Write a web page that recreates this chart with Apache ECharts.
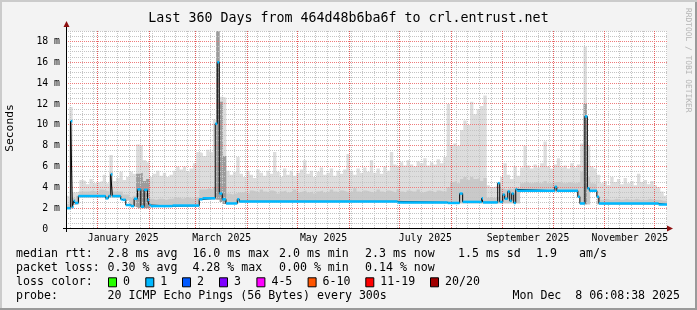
<!DOCTYPE html>
<html><head><meta charset="utf-8">
<script src="https://cdn.jsdelivr.net/npm/echarts@6/dist/echarts.min.js"></script>
<style>html,body{margin:0;padding:0;background:#f3f3f3}#c{width:697px;height:310px}</style>
</head><body><div id="c"></div>
<script>
const DAY = 86400000;
const START = Date.UTC(2024, 11, 13, 6, 8, 38);
const SPAN = 360;
const Y_MAX = 19;
const yTicks = [0, 2, 4, 6, 8, 10, 12, 14, 16, 18];
const monthStarts = ['2025-01-01','2025-02-01','2025-03-01','2025-04-01','2025-05-01','2025-06-01','2025-07-01','2025-08-01','2025-09-01','2025-10-01','2025-11-01','2025-12-01'];
const labelMonths = [['2025-01-01','2025-02-01'],['2025-03-01','2025-04-01'],['2025-05-01','2025-06-01'],['2025-07-01','2025-08-01'],['2025-09-01','2025-10-01'],['2025-11-01','2025-12-01']];
const labelNames = ['January 2025','March 2025','May 2025','July 2025','September 2025','November 2025'];

// median rtt (ms), step changes: day offset from START -> value
const medianDays = [0,2.8,3.8,4.6,5.4,7.4,23.8,25.4,26.8,27.8,32.8,33.8,35.8,38.8,40.8,42.8,44.8,46.8,48.8,49.8,50.8,63.8,79.8,81.8,89.4,90.6,91.8,93.6,95.8,102.6,103.8,198.6,228.6,235.8,237.6,249,249.8,258.6,259.8,261.6,262.8,264.6,265.8,267,268.2,269.4,270.3,292.8,294,306.6,307.8,310.8,312.3,313.5,318,319.2,355,360];
const medianVals = [2.0,10.35,2.1,2.7,2.5,3.16,2.94,3.16,5.24,3.16,2.85,2.8,2.3,2.2,2.9,3.8,2.15,3.75,2.8,2.3,2.2,2.25,2.85,2.95,10.1,16.0,3.4,2.85,2.45,2.85,2.65,2.55,2.5,3.4,2.6,2.95,2.55,4.4,2.6,3.3,2.9,3.6,2.7,3.4,2.5,3.8,3.67,4.05,3.67,3.1,2.45,10.8,3.9,3.67,3.1,2.45,2.35,2.35];

// smoke, one value per 2-day bin (ms)
const smokeTop = [
3.2,11.7,3.5,3.6,
4.7,4.6,4.3,4.8,4.4,4.5,4.6,5.2,4.4,
7.1,
4.6,4.9,5.5,4.7,5.0,
5.5,5.3,
8.1,8.0,6.6,6.4,
5.0,5.3,5.6,5.1,5.4,5.0,5.2,
5.6,6.0,5.7,6.0,5.5,5.8,6.3,7.4,
7.3,7.0,7.6,7.4,
10.5,19,
12.7,12.6,
5.6,5.2,5.5,6.9,
5.3,5.0,5.6,5.2,4.9,5.7,5.4,5.1,5.6,5.3,
7.4,
5.5,5.0,5.8,5.2,5.6,5.1,5.4,5.7,
6.6,
5.3,5.6,5.0,5.5,5.9,5.2,5.4,5.8,5.1,5.6,5.3,5.7,
7.2,
5.6,5.2,5.8,5.4,5.9,5.5,
6.6,
5.4,5.8,5.3,6.0,5.6,
7.4,
6.2,6.0,6.4,6.1,6.6,6.2,6.0,6.5,6.3,6.8,6.1,6.4,6.2,6.7,6.3,6.9,
12.0,
8.0,8.2,8.0,9.5,10.4,10.0,12.2,11.0,11.5,11.8,12.8,
4.2,4.0,4.1,4.4,
5.0,6.3,5.2,4.8,6.0,5.1,
5.9,8.0,6.1,5.8,6.2,5.9,6.3,8.4,6.0,5.8,6.2,
6.8,5.9,6.1,5.8,6.3,5.9,6.2,
8.2,17.5,8.0,
6.0,5.8,5.2,
4.4,4.6,4.2,5.0,4.5,4.8,4.3,4.9,4.4,4.6,4.2,5.3,4.5,4.7,4.3,4.6,4.2,4.0,3.6,3.2];
const smokeMid = [
2.4,3.0,2.9,3.2,
3.6,3.6,3.6,3.7,3.6,3.6,3.8,3.7,3.6,
5.5,
3.6,3.6,3.6,3.3,3.3,
3.0,3.2,
4.6,5.0,4.3,4.5,
2.9,2.8,2.9,2.9,2.8,2.9,2.9,
3.0,3.0,2.9,3.0,3.0,2.9,3.0,3.1,
3.8,3.8,3.9,3.8,
4.0,19,
6.0,5.0,
3.4,3.3,3.4,3.5,
3.5,3.6,3.4,3.7,3.6,3.5,3.8,3.6,3.5,3.7,3.6,3.4,3.6,3.7,3.5,3.6,3.8,3.5,3.6,3.7,3.5,3.6,3.4,3.6,3.7,3.5,3.6,3.8,3.6,3.5,3.7,3.6,3.5,3.6,3.9,3.6,3.5,3.7,3.6,3.5,3.6,3.8,3.6,3.5,3.7,3.6,3.5,3.8,
3.6,3.5,3.7,3.6,3.6,3.8,3.5,3.6,3.7,3.6,3.5,3.7,3.6,3.6,
4.0,
4.5,4.6,4.4,4.8,5.0,4.7,5.0,4.8,4.9,4.6,4.9,
3.0,3.0,3.0,3.1,
3.9,3.8,3.9,3.8,4.0,3.9,
4.4,4.5,4.4,4.4,4.5,4.4,4.4,4.6,4.4,4.4,4.5,4.5,4.4,4.4,4.5,4.4,4.4,4.5,
5.5,11.0,5.0,
4.4,4.3,3.0,
2.8,2.9,2.8,2.8,2.9,2.8,2.8,2.9,2.8,2.8,2.9,2.8,2.8,2.8,2.9,2.8,2.8,2.8,2.7,2.7];
const smokeDarkBins = [21,22,23,24,45,46,47,155];
const smokeDarkVals = [5.3,5.4,4.6,4.8,19,12.2,7.0,12.0];
const smokeLow = [
1.9,2.0,2.3,2.4,
3.0,3.0,3.0,3.0,3.0,3.0,3.0,3.0,3.0,
3.0,
3.0,3.0,3.0,2.7,2.7,
2.15,2.1,
2.0,2.0,2.0,2.0,
2.1,2.1,2.1,2.1,2.1,2.1,2.1,
2.1,2.1,2.1,2.1,2.1,2.1,2.1,2.1,
2.8,2.8,2.8,2.8,
2.8,2.8,
2.6,2.4,
2.4,2.4,2.4,2.5,
2.55,2.55,2.55,2.55,2.55,2.55,2.55,2.55,2.55,2.55,2.55,2.55,2.55,2.55,2.55,2.55,2.55,2.55,2.55,2.55,2.55,2.55,2.55,2.55,2.55,2.55,2.55,2.55,2.55,2.55,2.55,2.55,2.55,2.55,2.55,2.55,2.55,2.55,2.55,2.55,2.55,2.55,2.55,2.55,2.55,2.55,2.55,2.55,
2.45,2.45,2.45,2.45,2.45,2.45,2.45,2.45,2.45,2.45,2.45,2.45,2.45,2.45,
2.4,
2.45,2.45,2.45,2.45,2.45,2.45,2.45,2.45,2.45,2.45,2.45,
2.45,2.45,2.45,2.45,
2.45,2.45,2.45,2.45,2.45,2.45,
3.55,3.55,3.55,3.55,3.55,3.55,3.55,3.55,3.55,3.55,3.55,3.55,3.55,3.55,3.55,3.55,3.55,3.0,
2.35,2.35,2.35,
3.55,3.55,2.35,
2.3,2.3,2.3,2.3,2.3,2.3,2.3,2.3,2.3,2.3,2.3,2.3,2.3,2.3,2.3,2.3,2.3,2.3,2.3,2.3];
const BIN = 2;

const legendRows = [
  {label:'median rtt:', items:[['2.8 ms avg',107.6],['16.0 ms max',192.4],['2.0 ms min',279],['2.3 ms now',365],['1.5 ms sd',458],['1.9',536],['am/s',579]]},
  {label:'packet loss:', items:[['0.30 % avg',107.6],['4.28 % max',192.4],['0.00 % min',279],['0.14 % now',365]]}
];
const lossLabels = ['0','1','2','3','4-5','6-10','11-19','20/20'];
const lossColors = ['#26ff00','#00b8ff','#0059ff','#7e00ff','#ff00ff','#ff5500','#ff0000','#a10000'];
const lossX = [108,145.3,182,219,256.4,307.6,365.3,430];
const probeText = '20 ICMP Echo Pings (56 Bytes) every 300s';
const stampText = 'Mon Dec  8 06:08:38 2025';
const titleText = 'Last 360 Days from 464d48b6ba6f to crl.entrust.net';

// ---------- build ----------
const dayOf = s => { const p = s.split('-').map(Number); return (Date.UTC(p[0], p[1]-1, p[2]) - START) / DAY; };
const monthDays = monthStarts.map(dayOf);
const labelDays = labelMonths.map(m => (dayOf(m[0]) + dayOf(m[1])) / 2);
const weekDays = [];
{ let d = Date.UTC(2024, 11, 16); while (d < START + SPAN * DAY) { weekDays.push((d - START) / DAY); d += 7 * DAY; } }
const yMinor = [];
for (let v = 0.5; v <= Y_MAX + 1e-9; v += 0.5) { if (Math.abs(v / 2 - Math.round(v / 2)) > 1e-9) yMinor.push(v); }
const yMajor = yTicks.filter(v => v > 0);

const binSeries = arr => { const out = arr.map((v, i) => [i * BIN, v]); out.push([SPAN, arr[arr.length - 1]]); return out; };
const darkArr = smokeTop.map(() => null);
smokeDarkBins.forEach((b, k) => { darkArr[b] = smokeDarkVals[k]; });
const darkData = darkArr.map((v, i) => [i * BIN, v]); darkData.push([SPAN, null]);
const medData = medianDays.map((d, i) => [d, medianVals[i]]);
const segData = [];
for (let i = 0; i < medianDays.length - 1; i++) segData.push([medianDays[i], medianDays[i + 1], medianVals[i]]);

const MONO = '"DejaVu Sans Mono", monospace';
const H_COLORS = ['#c4c4c4', '#ee7c7c'];
const V_COLORS = ['#c4c4c4', '#e45e5e'];
const areaSeries = (name, data, color, z) => ({
  name, type: 'line', step: 'end', data, symbol: 'none', z, silent: true,
  lineStyle: { opacity: 0, width: 0 }, areaStyle: { color, opacity: 1, origin: 'start' }
});
const vGridData = weekDays.map(d => [d, 0]).concat(monthDays.map(d => [d, 1]));
const hGridData = yMinor.map(v => [0, v]).concat(yMajor.map(v => [1, v]));

const chart = echarts.init(document.getElementById('c'), null, { renderer: 'canvas' });

const graphics = [];
graphics.push({ type: 'text', left: 'center', top: 12, style: { text: titleText, font: '13.3px ' + MONO, fill: '#000' } });
graphics.push({ type: 'text', x: 10, y: 128, rotation: Math.PI / 2, style: { text: 'Seconds', font: '11.3px ' + MONO, fill: '#000', align: 'center', verticalAlign: 'middle' } });
graphics.push({ type: 'text', x: 688, y: 8, rotation: -Math.PI / 2, style: { text: 'RRDTOOL / TOBI OETIKER', font: '7.9px ' + MONO, fill: '#b4b4b4', align: 'left', verticalAlign: 'middle' } });
graphics.push({ type: 'line', shape: { x1: 66.5, y1: 26, x2: 66.5, y2: 232 }, style: { stroke: '#000', lineWidth: 1 }, z: 100 });
graphics.push({ type: 'line', shape: { x1: 63, y1: 228.5, x2: 667, y2: 228.5 }, style: { stroke: '#000', lineWidth: 1 }, z: 100 });
graphics.push({ type: 'polygon', shape: { points: [[63.5, 27], [69.5, 27], [66.5, 21]] }, style: { fill: '#8e1010' }, z: 100 });
graphics.push({ type: 'polygon', shape: { points: [[667, 225.5], [667, 231.5], [673, 228.5]] }, style: { fill: '#8e1010' }, z: 100 });
graphics.push({ type: 'rect', shape: { x: 0, y: 308, width: 697, height: 2 }, style: { fill: '#9a9a9a' } });
graphics.push({ type: 'rect', shape: { x: 695, y: 0, width: 2, height: 310 }, style: { fill: '#9a9a9a' } });
graphics.push({ type: 'rect', shape: { x: 0, y: 0, width: 697, height: 2 }, style: { fill: '#cbcbcb' } });
graphics.push({ type: 'rect', shape: { x: 0, y: 0, width: 2, height: 308 }, style: { fill: '#cbcbcb' } });
const rowY = [254.3, 268.3, 282.3, 296.2];
const LF = '11.6px ' + MONO;
legendRows.forEach((r, ri) => {
  graphics.push({ type: 'text', x: 16, y: rowY[ri], style: { text: r.label, font: LF, fill: '#000', verticalAlign: 'middle' } });
  r.items.forEach(it => graphics.push({ type: 'text', x: it[1], y: rowY[ri], style: { text: it[0], font: LF, fill: '#000', verticalAlign: 'middle' } }));
});
graphics.push({ type: 'text', x: 16, y: rowY[2], style: { text: 'loss color:', font: LF, fill: '#000', verticalAlign: 'middle' } });
lossLabels.forEach((l, i) => {
  graphics.push({ type: 'rect', shape: { x: lossX[i] + 0.5, y: rowY[2] - 4.5, width: 8, height: 9 }, style: { fill: lossColors[i], stroke: '#000', lineWidth: 1 } });
  graphics.push({ type: 'text', x: lossX[i] + 15, y: rowY[2], style: { text: l, font: LF, fill: '#000', verticalAlign: 'middle' } });
});
graphics.push({ type: 'text', x: 16, y: rowY[3], style: { text: 'probe:', font: LF, fill: '#000', verticalAlign: 'middle' } });
graphics.push({ type: 'text', x: 107.6, y: rowY[3], style: { text: probeText, font: LF, fill: '#000', verticalAlign: 'middle' } });
graphics.push({ type: 'text', x: 680, y: rowY[3], style: { text: stampText, font: LF, fill: '#000', align: 'right', verticalAlign: 'middle' } });

chart.setOption({
  animation: false,
  backgroundColor: '#f3f3f3',
  grid: { left: 66, right: 30, top: 31, bottom: 81, show: true, backgroundColor: '#ffffff', borderWidth: 0 },
  xAxis: [
    { type: 'value', min: 0, max: SPAN,
      axisLine: { show: false }, splitLine: { show: false },
      axisTick: { show: false, customValues: labelDays },
      axisLabel: { customValues: labelDays, margin: 4, color: '#000', fontFamily: '"DejaVu Sans Mono", monospace', fontSize: 9.8,
        formatter: v => { let bi = 0, bd = 1e9; labelDays.forEach((d, i) => { if (Math.abs(d - v) < bd) { bd = Math.abs(d - v); bi = i; } }); return labelNames[bi]; } } },
    { type: 'value', min: 0, max: 1, show: false }
  ],
  yAxis: [
    { type: 'value', min: 0, max: Y_MAX,
      axisLine: { show: false }, splitLine: { show: false },
      axisTick: { show: false, customValues: yTicks },
      axisLabel: { customValues: yTicks, margin: 6, color: '#000', fontFamily: '"DejaVu Sans Mono", monospace', fontSize: 9.8,
        formatter: v => v === 0 ? '0  ' : v + ' m' } },
    { type: 'value', min: 0, max: 1, show: false }
  ],
  series: [
    areaSeries('smokeTop', binSeries(smokeTop), '#dddddd', 1),
    areaSeries('smokeMid', binSeries(smokeMid), '#c9c9c9', 1),
    areaSeries('smokeDark', darkData, '#9c9c9c', 1),
    areaSeries('smokeLow', binSeries(smokeLow), '#ffffff', 1),
    { name: 'vGrid', type: 'custom', z: 3, silent: true, clip: false, xAxisIndex: 0, yAxisIndex: 1,
      data: vGridData, encode: { x: 0, y: 1 },
      renderItem: (params, api) => {
        const cs = params.coordSys;
        const x = Math.floor(api.coord([api.value(0), 0])[0]) + 0.5;
        return { type: 'line', z2: api.value(1) ? 2 : 1, shape: { x1: x, y1: cs.y, x2: x, y2: cs.y + cs.height },
          style: { stroke: V_COLORS[api.value(1)], lineWidth: 1, lineDash: [1, 1] } };
      } },
    { name: 'hGrid', type: 'custom', z: 3, silent: true, clip: false, xAxisIndex: 1, yAxisIndex: 0,
      data: hGridData, encode: { x: 0, y: 1 },
      renderItem: (params, api) => {
        const cs = params.coordSys;
        const y = Math.floor(api.coord([0, api.value(1)])[1]) + 0.5;
        return { type: 'line', z2: api.value(0) ? 2 : 1, shape: { x1: cs.x, y1: y, x2: cs.x + cs.width, y2: y },
          style: { stroke: H_COLORS[api.value(0)], lineWidth: 1, lineDash: [1, 1] } };
      } },
    { name: 'median', type: 'line', step: 'end', data: medData, symbol: 'none', z: 6, silent: true,
      lineStyle: { color: '#000', width: 1 } },
    { name: 'medianLoss', type: 'custom', z: 7, silent: true, data: segData, encode: { x: [0, 1], y: 2 },
      renderItem: (params, api) => {
        const a = api.coord([api.value(0), api.value(2)]);
        const b = api.coord([api.value(1), api.value(2)]);
        return { type: 'line', shape: { x1: a[0], y1: a[1], x2: b[0], y2: b[1] }, style: { stroke: '#00b8ff', lineWidth: 2.5 } };
      } }
  ],
  graphic: graphics
});
</script></body></html>
